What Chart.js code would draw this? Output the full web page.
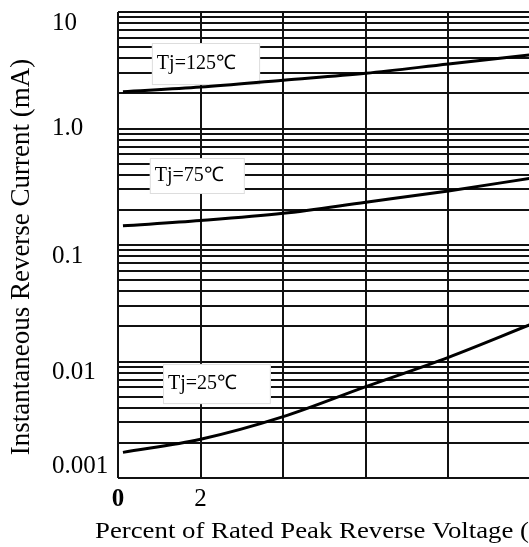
<!DOCTYPE html>
<html lang="en">
<head>
<meta charset="UTF-8">
<title>Instantaneous Reverse Current</title>
<script src="https://cdn.jsdelivr.net/npm/chart.js"></script>
<style>
    html, body { margin: 0; padding: 0; background: #fff; }
    #wrap { width: 529px; height: 547px; }
</style>
</head>
<body>
<div id="wrap"><canvas id="chart" width="529" height="547"></canvas></div>
<script>
// percent of rated voltage (as printed on the sheet) vs current in mA
const xValues = [0.12, 2, 4, 6, 8, 9.96];
const tj125 = [2.07, 2.27, 2.6, 2.98, 3.58, 4.27];
const tj75 = [0.146, 0.162, 0.187, 0.233, 0.291, 0.373];
const tj25 = [0.00166, 0.00215, 0.00336, 0.00608, 0.01087, 0.0206];

const xTickValues = [0, 2, 4, 6, 8];
const xTickLabels = ['0', '2', '', '', ''];
const yTickValues = [0.001, 0.01, 0.1, 1, 10];
// the sheet prints some labels a little off their lines, the blank line nudges them
const yTickLabels = [['0.001', ''], ['', '0.01'], ['', '0.1'], '1.0', ['', '10']];

const xTitle = 'Percent of Rated Peak Reverse Voltage (%)';
const yTitle = 'Instantaneous Reverse Current (mA)';

const curveNames = ['Tj=125℃', 'Tj=75℃', 'Tj=25℃'];
const labelBoxX = [[0.82, 3.44], [0.77, 3.07], [1.09, 3.70]];
const labelBoxY = [[5.42, 2.36], [0.558, 0.274], [0.00953, 0.00431]];

const serif = "'Liberation Serif', 'Times New Roman', serif";

// every 1..9 step of each decade gets a grid line
const yGrid = [];
for (let d = 0; d < yTickValues.length - 1; d++) {
    for (let k = 1; k <= 9; k++) yGrid.push(+(k * yTickValues[d]).toPrecision(3));
}
yGrid.push(yTickValues[yTickValues.length - 1]);

function series(vals) {
    return xValues.map((x, i) => ({ x: x, y: vals[i] }));
}

const labelBoxes = {
    id: 'labelBoxes',
    beforeDatasetsDraw(chart) {
        const ctx = chart.ctx;
        const xs = chart.scales.x, ys = chart.scales.y;
        ctx.save();
        curveNames.forEach((name, i) => {
            const l = xs.getPixelForValue(labelBoxX[i][0]);
            const r = xs.getPixelForValue(labelBoxX[i][1]);
            const t = ys.getPixelForValue(labelBoxY[i][0]);
            const b = ys.getPixelForValue(labelBoxY[i][1]);
            ctx.fillStyle = '#fff';
            ctx.fillRect(l, t, r - l, b - t);
            ctx.strokeStyle = '#ddd';
            ctx.lineWidth = 1;
            ctx.strokeRect(l + 0.5, t + 0.5, r - l - 1, b - t - 1);
            ctx.fillStyle = '#000';
            ctx.font = '20px ' + serif;
            ctx.textAlign = 'left';
            ctx.textBaseline = 'middle';
            ctx.fillText(name, l + 5, (t + b) / 2);
        });
        ctx.restore();
    },
    afterDraw(chart) {
        // axis titles drawn by hand: the x one runs off the right edge like the sheet,
        // and the y one leaves room for left-aligned tick labels
        const ctx = chart.ctx;
        const a = chart.chartArea;
        ctx.save();
        ctx.fillStyle = '#000';
        ctx.textBaseline = 'middle';

        ctx.save();
        ctx.translate(22, (a.top + a.bottom) / 2 + 12);
        ctx.rotate(-Math.PI / 2);
        ctx.font = '27px ' + serif;
        ctx.textAlign = 'center';
        ctx.fillText(yTitle, 0, 0);
        ctx.restore();

        ctx.font = '24px ' + serif;
        ctx.textAlign = 'left';
        const shown = ctx.measureText(xTitle.slice(0, -2)).width;
        ctx.translate(a.left - 23, a.bottom + 54);
        ctx.scale((chart.width - a.left + 23) / shown, 1);
        ctx.fillText(xTitle, 0, 0);
        ctx.restore();
    }
};

const lineStyle = {
    borderColor: '#000',
    borderWidth: 3,
    pointRadius: 0,
    fill: false,
    cubicInterpolationMode: 'monotone'
};

new Chart(document.getElementById('chart'), {
    type: 'line',
    data: {
        datasets: [
            Object.assign({ label: curveNames[0], data: series(tj125) }, lineStyle),
            Object.assign({ label: curveNames[1], data: series(tj75) }, lineStyle),
            Object.assign({ label: curveNames[2], data: series(tj25) }, lineStyle)
        ]
    },
    options: {
        responsive: false,
        animation: false,
        devicePixelRatio: 1,
        layout: { padding: { left: 52, top: 12, right: 0, bottom: 0 } },
        plugins: {
            legend: { display: false },
            tooltip: { enabled: false }
        },
        scales: {
            x: {
                type: 'linear',
                min: 0,
                max: 9.95,
                afterBuildTicks: s => { s.ticks = xTickValues.map(v => ({ value: v })); },
                afterFit: s => { s.height = 69; s.paddingLeft = 0; s.paddingRight = 0; },
                border: { display: false },
                grid: { color: '#111', lineWidth: 2, drawTicks: false },
                ticks: {
                    autoSkip: false,
                    maxRotation: 0,
                    padding: 10,
                    color: '#000',
                    font: c => ({ family: serif, size: 25, lineHeight: 0.9, weight: c.index === 0 ? 'bold' : 'normal' }),
                    callback: v => {
                        const i = xTickValues.indexOf(v);
                        return i >= 0 ? xTickLabels[i] : '';
                    }
                }
            },
            y: {
                type: 'logarithmic',
                min: 0.001,
                max: 10,
                afterBuildTicks: s => { s.ticks = yGrid.map(v => ({ value: v })); },
                afterFit: s => { s.width = 66; s.paddingTop = 0; s.paddingBottom = 0; },
                border: { display: false },
                grid: { color: '#111', lineWidth: 2, drawTicks: false },
                ticks: {
                    autoSkip: false,
                    crossAlign: 'far',
                    color: '#000',
                    font: { family: serif, size: 25, lineHeight: 0.9 },
                    callback: v => {
                        const i = yTickValues.findIndex(t => Math.abs(t - v) / t < 1e-6);
                        return i >= 0 ? yTickLabels[i] : '';
                    }
                }
            }
        }
    },
    plugins: [labelBoxes]
});
</script>
</body>
</html>
